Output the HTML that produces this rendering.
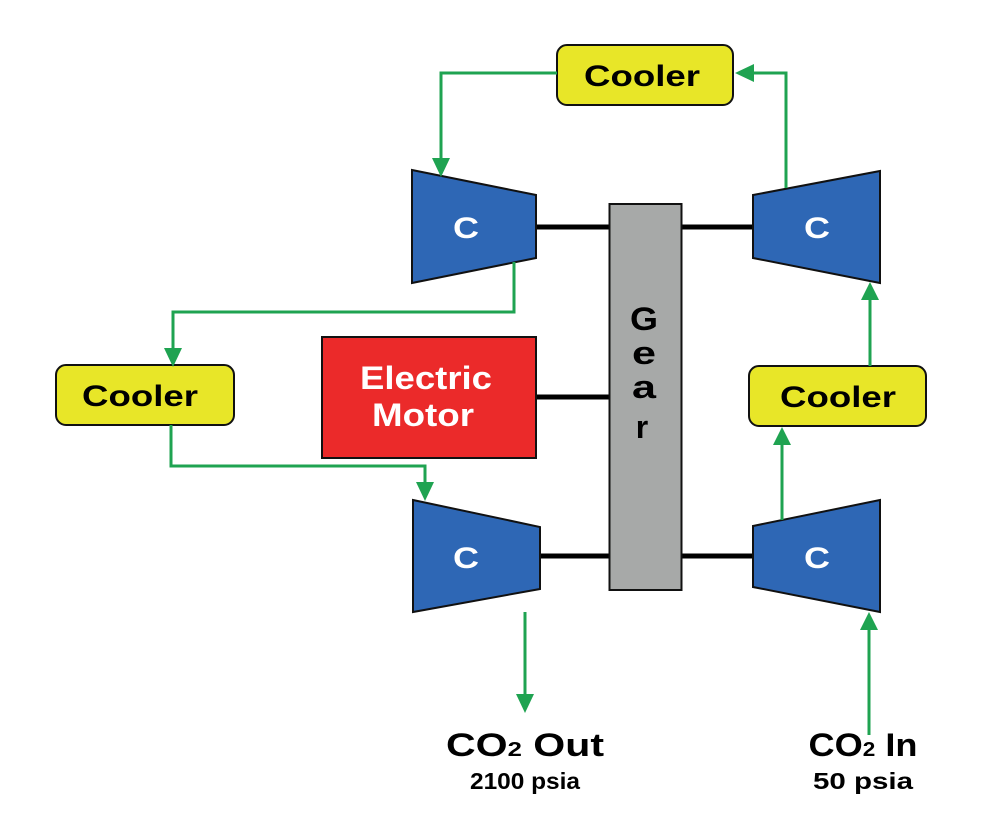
<!DOCTYPE html>
<html><head><meta charset="utf-8"><style>
html,body{margin:0;padding:0;background:#fff;}
svg{display:block;}
text{font-family:"Liberation Sans",Arial,sans-serif;font-weight:bold;}
</style></head><body>
<svg width="1004" height="839" viewBox="0 0 1004 839" xmlns="http://www.w3.org/2000/svg">
<g stroke="#000" stroke-width="5">
<line x1="536" y1="227" x2="610" y2="227"/>
<line x1="681" y1="227" x2="753" y2="227"/>
<line x1="536" y1="397" x2="610" y2="397"/>
<line x1="540" y1="556" x2="610" y2="556"/>
<line x1="681" y1="556" x2="753" y2="556"/>
</g>
<rect x="609.5" y="204" width="72" height="386" fill="#a7a9a8" stroke="#111" stroke-width="2"/>
<text x="644" y="330" font-size="32" text-anchor="middle" textLength="28" lengthAdjust="spacingAndGlyphs">G</text>
<text x="644" y="364" font-size="32" text-anchor="middle" textLength="24" lengthAdjust="spacingAndGlyphs">e</text>
<text x="644" y="398" font-size="32" text-anchor="middle" textLength="24" lengthAdjust="spacingAndGlyphs">a</text>
<text x="642" y="438" font-size="32" text-anchor="middle">r</text>
<g fill="#2e67b5" stroke="#111" stroke-width="2">
<polygon points="412,170 536,195 536,258 412,283"/>
<polygon points="753,195 880,171 880,283 753,258"/>
<polygon points="413,500 540,527 540,589 413,612"/>
<polygon points="753,526 880,500 880,612 753,587"/>
</g>
<g fill="#fff" font-size="30" text-anchor="middle">
<text x="466" y="238" textLength="26" lengthAdjust="spacingAndGlyphs">C</text>
<text x="817" y="238" textLength="26" lengthAdjust="spacingAndGlyphs">C</text>
<text x="466" y="568" textLength="26" lengthAdjust="spacingAndGlyphs">C</text>
<text x="817" y="568" textLength="26" lengthAdjust="spacingAndGlyphs">C</text>
</g>
<rect x="322" y="337" width="214" height="121" fill="#eb2a2a" stroke="#111" stroke-width="2"/>
<text x="426" y="389" font-size="32" fill="#fff" text-anchor="middle" textLength="132" lengthAdjust="spacingAndGlyphs">Electric</text>
<text x="423" y="426" font-size="32" fill="#fff" text-anchor="middle" textLength="102" lengthAdjust="spacingAndGlyphs">Motor</text>
<g fill="#e8e628" stroke="#111" stroke-width="2">
<rect x="557" y="45" width="176" height="60" rx="10"/>
<rect x="56" y="365" width="178" height="60" rx="10"/>
<rect x="749" y="366" width="177" height="60" rx="10"/>
</g>
<g font-size="30" text-anchor="middle">
<text x="642" y="86" textLength="116" lengthAdjust="spacingAndGlyphs">Cooler</text>
<text x="140" y="406" textLength="116" lengthAdjust="spacingAndGlyphs">Cooler</text>
<text x="838" y="407" textLength="116" lengthAdjust="spacingAndGlyphs">Cooler</text>
</g>
<g fill="none" stroke="#1fa351" stroke-width="3">
<polyline points="557,73 441,73 441,160"/>
<polyline points="786,188 786,73 752,73"/>
<polyline points="514,262 514,312 173,312 173,350"/>
<polyline points="171,425 171,466 425,466 425,485"/>
<line x1="525" y1="612" x2="525" y2="697"/>
<line x1="782" y1="520" x2="782" y2="442"/>
<line x1="870" y1="366" x2="870" y2="298"/>
<line x1="869" y1="735" x2="869" y2="628"/>
</g>
<g fill="#1fa351">
<polygon points="432,158 450,158 441,177"/>
<polygon points="164,348 182,348 173,367"/>
<polygon points="416,482 434,482 425,501"/>
<polygon points="516,694 534,694 525,713"/>
<polygon points="735,73 754,64 754,82"/>
<polygon points="773,445 791,445 782,427"/>
<polygon points="861,300 879,300 870,282"/>
<polygon points="860,630 878,630 869,612"/>
</g>
<text x="525" y="756" font-size="32" text-anchor="middle" textLength="158" lengthAdjust="spacingAndGlyphs">CO<tspan font-size="20">2</tspan> Out</text>
<text x="525" y="789" font-size="23" text-anchor="middle" textLength="110" lengthAdjust="spacingAndGlyphs">2100 psia</text>
<text x="863" y="756" font-size="32" text-anchor="middle" textLength="109" lengthAdjust="spacingAndGlyphs">CO<tspan font-size="20">2</tspan> In</text>
<text x="863" y="789" font-size="23" text-anchor="middle" textLength="100" lengthAdjust="spacingAndGlyphs">50 psia</text>
</svg>
</body></html>
